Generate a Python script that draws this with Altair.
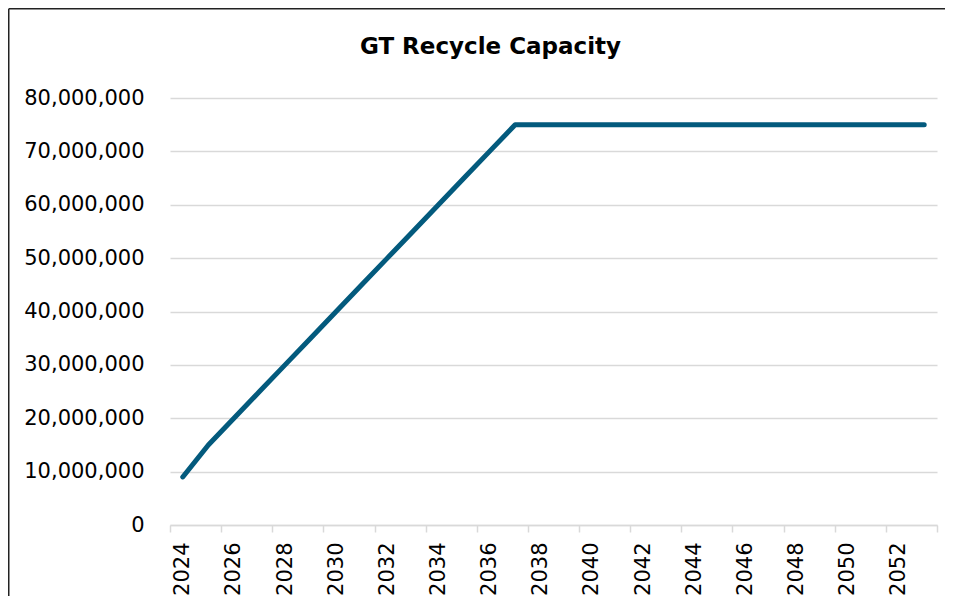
import altair as alt
import pandas as pd

# ---- data ----
years = [2024, 2025, 2026, 2027, 2028, 2029, 2030, 2031, 2032, 2033,
         2034, 2035, 2036, 2037, 2038, 2039, 2040, 2041, 2042, 2043,
         2044, 2045, 2046, 2047, 2048, 2049, 2050, 2051, 2052, 2053]
capacity = [9000000, 15000000, 20000000, 25000000, 30000000, 35000000,
            40000000, 45000000, 50000000, 55000000, 60000000, 65000000,
            70000000, 75000000, 75000000, 75000000, 75000000, 75000000,
            75000000, 75000000, 75000000, 75000000, 75000000, 75000000,
            75000000, 75000000, 75000000, 75000000, 75000000, 75000000]
y_tick_values = [0, 10000000, 20000000, 30000000, 40000000,
                 50000000, 60000000, 70000000, 80000000]
# category boundaries where Excel draws its tick marks (every 2 categories)
x_tick_bounds = [2023.5, 2025.5, 2027.5, 2029.5, 2031.5, 2033.5, 2035.5, 2037.5,
                 2039.5, 2041.5, 2043.5, 2045.5, 2047.5, 2049.5, 2051.5, 2053.5]
title_text = "GT Recycle Capacity"

df = pd.DataFrame({"year": years, "capacity": capacity})

W, H = 767, 427
PAD = {"left": 162, "top": 90, "right": 8, "bottom": 71}
GRID = "#d9d9d9"
FONT = "DejaVu Sans"

x_scale = alt.Scale(domain=[2023.5, 2053.5], nice=False, zero=False)
y_scale = alt.Scale(domain=[0, 80000000], nice=False, zero=True)

line = alt.Chart(df).mark_line(
    color="#035a7d", strokeWidth=5, strokeCap="round", strokeJoin="round"
).encode(
    x=alt.X("year:Q", scale=x_scale, title=None,
            axis=alt.Axis(values=x_tick_bounds,
                          labelExpr="datum.value > 2053 ? '' : toString(datum.value + 0.5)",
                          labelAngle=-90, labelOffset=12.8, labelPadding=10,
                          labelFlush=False, labelOverlap=False, labelBound=False,
                          ticks=True, tickSize=7, tickColor=GRID, tickWidth=1.5,
                          domain=True, domainColor=GRID, domainWidth=1.5,
                          grid=False, labelFont=FONT, labelFontSize=21,
                          labelColor="#000000")),
    y=alt.Y("capacity:Q", scale=y_scale, title=None,
            axis=alt.Axis(values=y_tick_values, format=",.0f", grid=True,
                          gridColor=GRID, gridWidth=1.3, ticks=False,
                          domain=False, labelPadding=26, labelFont=FONT,
                          labelFontSize=21, labelColor="#000000")),
)

# chart-area border (left and top edges visible in the reference)
border_data = alt.Data(values=[{"k": 1}])
left_border = alt.Chart(border_data).mark_rule(color="#222222", strokeWidth=1.5).encode(
    x=alt.value(-PAD["left"] + 0.75), y=alt.value(-PAD["top"] + 0.75),
    y2=alt.value(H + PAD["bottom"]))
top_border = alt.Chart(border_data).mark_rule(color="#222222", strokeWidth=1.5).encode(
    x=alt.value(-PAD["left"] + 0.75), x2=alt.value(W + PAD["right"]),
    y=alt.value(-PAD["top"] + 0.75))

chart = alt.layer(line, left_border, top_border).properties(
    width=W, height=H,
    title=alt.TitleParams(text=title_text, font=FONT, fontSize=23,
                          fontWeight="bold", color="#000000", anchor="middle",
                          dx=-63, dy=51, offset=0),
    autosize=alt.AutoSizeParams(type="none"),
    padding=PAD,
).configure_view(stroke=None)

chart.save("out.html", embed_options={"renderer": "svg", "actions": False})
